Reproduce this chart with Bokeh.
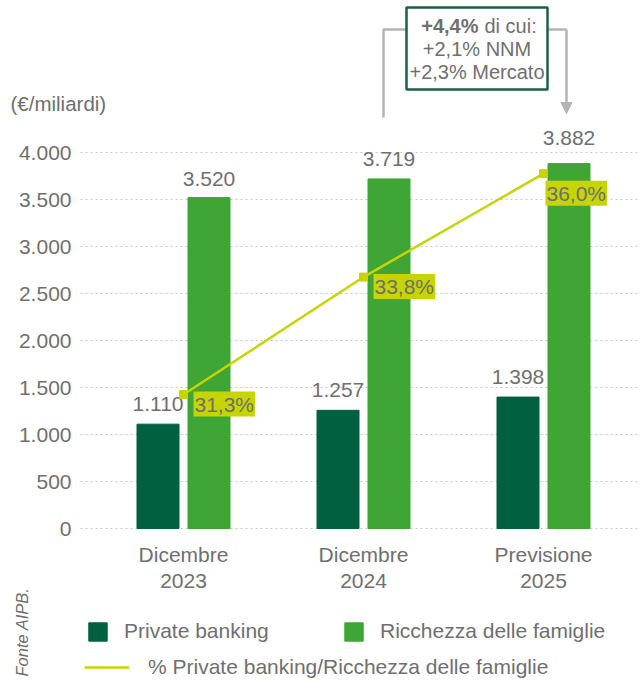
from bokeh.plotting import figure
from bokeh.models import (Range1d, FixedTicker, Label, Legend, LegendItem, LinearAxis,
                          ColumnDataSource, Arrow, NormalHead)
from bokeh.transform import dodge
from bokeh.core.properties import value
from bokeh.embed import file_html
from bokeh.resources import INLINE

# ---------------- data ----------------
categories = ["Dicembre\n2023", "Dicembre\n2024", "Previsione\n2025"]
private_banking = [1110, 1257, 1398]
ricchezza = [3520, 3719, 3882]
pct_private = [31.3, 33.8, 36.0]
pb_labels = ["1.110", "1.257", "1.398"]
ric_labels = ["3.520", "3.719", "3.882"]
pct_labels = ["31,3%", "33,8%", "36,0%"]
y_ticks = [0, 500, 1000, 1500, 2000, 2500, 3000, 3500, 4000]
y_tick_labels = ["0", "500", "1.000", "1.500", "2.000", "2.500", "3.000", "3.500", "4.000"]
unit_label = "(€/miliardi)"
source_label = "Fonte AIPB."
note_lines = ["+4,4%", "di cui:", "+2,1% NNM", "+2,3% Mercato"]

# ---------------- styling / layout ----------------
DARK = "#00603f"
LIGHT = "#3fa535"
LIME = "#c6d400"
GRAY = "#6f6f6f"
FONT = "Liberation Sans"

W, H = 640, 680
K = 0.094          # px per unit (value axis)
ZERO_PX = 528      # screen y of value 0
X0_PX, XSTEP = 183, 180
PLOT_L, PLOT_B = 80, 536
PCT_BASE, PCT_SCALE = 28.45, 500.0  # secondary axis mapping


def xd(px):
    return (px - X0_PX) / XSTEP


def yd(py):
    return (ZERO_PX - py) / K


xs = list(range(len(categories)))
src = ColumnDataSource(dict(x=xs, pb=private_banking, ric=ricchezza, pct=pct_private,
                            pbl=pb_labels, ricl=ric_labels,
                            pb_dy=[-20, -20, -20], ric_dy=[-19, -20, -26]))

p = figure(width=W, height=H, output_backend="svg", toolbar_location=None,
           x_range=Range1d(xd(0), xd(W)), y_range=Range1d(yd(H), yd(0)),
           x_axis_location=None, y_axis_location=None,
           min_border=0)
p.outline_line_color = None
p.background_fill_color = "white"
p.border_fill_color = "white"
p.xgrid.visible = False
p.ygrid.visible = False

p.extra_y_ranges = {"pct": Range1d(PCT_BASE + yd(H) / PCT_SCALE,
                                   PCT_BASE + yd(0) / PCT_SCALE)}

# dotted value grid (from the plot's left edge to the right)
p.segment(x0=[xd(PLOT_L)] * len(y_ticks), x1=[xd(W)] * len(y_ticks), y0=y_ticks, y1=y_ticks,
          line_color="#c4c4c4", line_dash="2 3", line_width=1)

# axes drawn at fixed positions inside the canvas
ya = LinearAxis(ticker=FixedTicker(ticks=y_ticks), fixed_location=xd(PLOT_L))
ya.major_label_overrides = {t: l for t, l in zip(y_ticks, y_tick_labels)}
ya.axis_line_color = None
ya.major_tick_line_color = None
ya.minor_tick_line_color = None
ya.major_tick_out = 0
ya.major_tick_in = 0
ya.major_label_standoff = 9
ya.major_label_text_font = FONT
ya.major_label_text_font_size = "21px"
ya.major_label_text_color = GRAY
p.add_layout(ya, "left")

xa = LinearAxis(ticker=FixedTicker(ticks=xs), fixed_location=yd(PLOT_B))
xa.major_label_overrides = {x: c for x, c in zip(xs, categories)}
xa.axis_line_color = None
xa.major_tick_line_color = None
xa.minor_tick_line_color = None
xa.major_tick_out = 0
xa.major_tick_in = 0
xa.major_label_standoff = 6
xa.major_label_text_font = FONT
xa.major_label_text_font_size = "21px"
xa.major_label_text_color = GRAY
xa.major_label_text_line_height = 1.15
p.add_layout(xa, "below")

# bars
BW = 42 / XSTEP
OFF = 25.5 / XSTEP
r_pb = p.vbar(x=dodge("x", -OFF), top="pb", width=BW, source=src, color=DARK)
r_ric = p.vbar(x=dodge("x", OFF), top="ric", width=BW, source=src, color=LIGHT)

p.text(x=dodge("x", -OFF), y="pb", text="pbl", source=src, text_align="center",
       text_baseline="alphabetic", y_offset="pb_dy", text_font=value(FONT),
       text_font_size="21px", text_color=GRAY)
p.text(x=dodge("x", OFF), y="ric", text="ricl", source=src, text_align="center",
       text_baseline="alphabetic", y_offset="ric_dy", text_font=value(FONT),
       text_font_size="21px", text_color=GRAY)

# line on secondary scale
r_line = p.line(x="x", y="pct", source=src, y_range_name="pct", color=LIME, line_width=2.5)
p.scatter(x="x", y="pct", source=src, y_range_name="pct", marker="square", size=8,
          color=LIME)

pct_offsets = [(10, 3), (10, 3), (2, -7)]
for x, v, t, (dx, dy) in zip(xs, pct_private, pct_labels, pct_offsets):
    p.add_layout(Label(x=x, y=v, y_range_name="pct", text=t, x_offset=dx, y_offset=dy,
                       text_align="left", text_baseline="top", text_font=FONT,
                       text_font_size="21px", text_color=GRAY,
                       background_fill_color=LIME, padding=1))

# unit label and source
p.add_layout(Label(x=xd(10), y=yd(103), text=unit_label, text_align="left",
                   text_baseline="middle", text_font=FONT, text_font_size="20.5px",
                   text_color=GRAY))
p.add_layout(Label(x=xd(21), y=yd(676), text=source_label, angle=90, angle_units="deg",
                   text_align="left", text_baseline="middle", text_font=FONT,
                   text_font_style="italic", text_font_size="16.5px", text_color=GRAY))

# growth note with bracket
BR = "#b4b4b4"
p.line(x=[xd(383), xd(383), xd(406)], y=[yd(117), yd(29), yd(29)], color=BR, line_width=2.5)
p.line(x=[xd(547), xd(566)], y=[yd(29), yd(29)], color=BR, line_width=2.5)
p.add_layout(Arrow(x_start=xd(566), y_start=yd(29), x_end=xd(566), y_end=yd(113),
                   line_color=BR, line_width=2.5,
                   end=NormalHead(size=11, fill_color=BR, line_color=BR)))
p.quad(left=[xd(406)], right=[xd(547)], top=[yd(7)], bottom=[yd(89)],
       fill_color="white", line_color="#1d5f45", line_width=2.5)
p.text(x=[xd(478)], y=[yd(25)], text=[note_lines[0]], text_align="right",
       text_baseline="middle", text_font=value(FONT), text_font_style="bold",
       text_font_size="20px", text_color=GRAY)
p.text(x=[xd(484)], y=[yd(25)], text=[note_lines[1]], text_align="left",
       text_baseline="middle", text_font=value(FONT),
       text_font_size="20px", text_color=GRAY)
p.text(x=[xd(476.5), xd(476.5)], y=[yd(48), yd(71)], text=note_lines[2:],
       text_align="center", text_baseline="middle", text_font=value(FONT),
       text_font_size="20px", text_color=GRAY)

# legends (screen px from the canvas' bottom-left)
leg1 = Legend(items=[LegendItem(label="Private banking", renderers=[r_pb]),
                     LegendItem(label="Ricchezza delle famiglie", renderers=[r_ric])],
              orientation="horizontal", glyph_width=23, glyph_height=23,
              label_standoff=15, spacing=0, label_width=218, padding=0, margin=0,
              location=(86, H - 643), border_line_color=None, background_fill_alpha=0,
              label_text_font=FONT, label_text_font_size="21px", label_text_color=GRAY)
leg2 = Legend(items=[LegendItem(label="% Private banking/Ricchezza delle famiglie",
                                renderers=[r_line])],
              orientation="horizontal", glyph_width=45, glyph_height=16, label_height=16,
              label_standoff=19, spacing=0, padding=0, margin=0,
              location=(84, 1), border_line_color=None, background_fill_alpha=0,
              label_text_font=FONT, label_text_font_size="21px", label_text_color=GRAY)
p.add_layout(leg1)
p.add_layout(leg2)

open("out.html", "w").write(file_html(p, INLINE))
